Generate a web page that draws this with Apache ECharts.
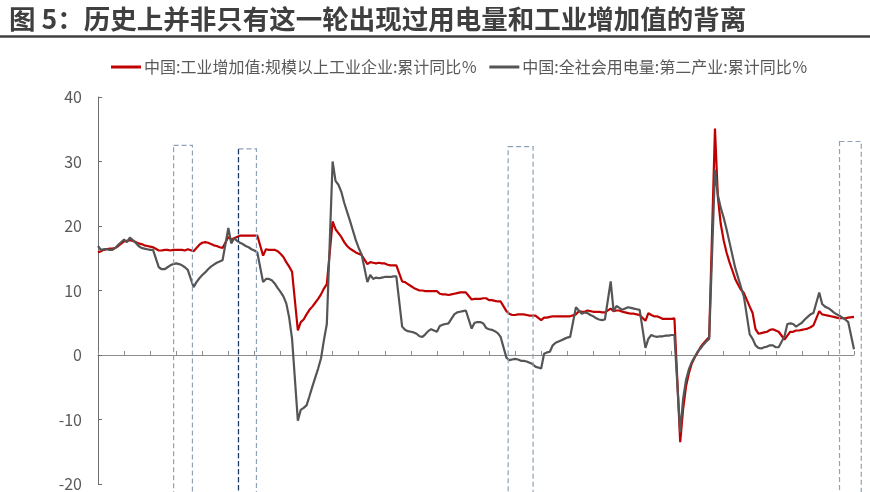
<!DOCTYPE html>
<html>
<head>
<meta charset="utf-8">
<script src="https://cdn.jsdelivr.net/npm/echarts@6/dist/echarts.min.js"></script>
<style>
html,body{margin:0;padding:0;background:#fff;}
#c{width:870px;height:492px;}
</style>
</head>
<body>
<div id="c"></div>
<script>
// ---- data (monthly, starting 2003-05; null = January with no separate release) ----
const titleText = '图 5：历史上并非只有这一轮出现过用电量和工业增加值的背离';
const seriesNames = ['中国:工业增加值:规模以上工业企业:累计同比％', '中国:全社会用电量:第二产业:累计同比％'];
const startYear = 2003, startMonth = 5, monthCount = 262;
const yTicks = { min: -20, max: 40, step: 10 };

const iva = [
  15.9, 16.1, 16.3, 16.4, 16.5, 16.5, 16.6, 16.9,                  // 2003 May-Dec
  null, 17.6, 17.7, 17.8, 17.7, 17.5, 17.3, 17.2, 17.0, 16.9, 16.8, 16.7, // 2004
  null, 16.2, 16.2, 16.3, 16.3, 16.2, 16.3, 16.3, 16.3, 16.3, 16.2, 16.4, // 2005
  null, 16.1, 16.6, 17.1, 17.4, 17.5, 17.4, 17.2, 17.0, 16.9, 16.7, 16.6, // 2006
  null, 18.3, 17.9, 18.1, 18.3, 18.5, 18.5, 18.5, 18.5, 18.5, 18.5, 18.5, // 2007
  null, 15.4, 16.4, 16.3, 16.3, 16.3, 16.1, 15.7, 15.2, 14.4, 13.7, 12.9, // 2008
  null, 3.8, 5.1, 5.5, 6.3, 7.0, 7.5, 8.1, 8.7, 9.4, 10.3, 11.0,          // 2009
  null, 20.7, 19.5, 18.9, 18.3, 17.5, 16.9, 16.5, 16.2, 15.9, 15.7, 15.5, // 2010
  null, 14.1, 14.4, 14.3, 14.2, 14.3, 14.2, 14.2, 14.0, 13.9, 13.9, 13.9, // 2011
  null, 11.4, 11.3, 11.0, 10.7, 10.4, 10.2, 10.0, 10.0, 9.9, 9.9, 9.9,    // 2012
  null, 9.9, 9.5, 9.4, 9.4, 9.3, 9.4, 9.5, 9.6, 9.7, 9.7, 9.7,            // 2013
  null, 8.6, 8.7, 8.7, 8.7, 8.8, 8.8, 8.5, 8.5, 8.4, 8.3, 8.3,            // 2014
  null, 6.8, 6.4, 6.2, 6.2, 6.3, 6.3, 6.3, 6.2, 6.1, 6.1, 6.1,            // 2015
  null, 5.4, 5.8, 5.8, 5.9, 6.0, 6.0, 6.0, 6.0, 6.0, 6.0, 6.0,            // 2016
  null, 6.3, 6.8, 6.7, 6.7, 6.9, 6.8, 6.7, 6.7, 6.7, 6.6, 6.6,            // 2017
  null, 7.2, 6.8, 6.9, 6.9, 6.7, 6.6, 6.5, 6.4, 6.4, 6.3, 6.2,            // 2018
  null, 5.3, 6.5, 6.2, 6.0, 6.0, 5.8, 5.6, 5.6, 5.6, 5.6, 5.7,            // 2019
  null, -13.5, -8.4, -4.9, -2.8, -1.3, -0.4, 0.4, 1.2, 1.8, 2.3, 2.8,     // 2020
  null, 35.1, 24.5, 20.3, 17.8, 15.9, 14.4, 13.1, 11.8, 10.9, 10.1, 9.6,  // 2021
  null, 7.5, 6.5, 4.0, 3.3, 3.4, 3.5, 3.6, 3.9, 4.0, 3.8, 3.6,            // 2022
  null, 2.4, 3.0, 3.6, 3.6, 3.8, 3.8, 3.9, 4.0, 4.1, 4.3, 4.6,            // 2023
  null, 6.8, 6.3, 6.2, 6.1, 6.0, 5.9, 5.8, 5.7, 5.7, 5.7, 5.8,            // 2024
  null, 5.9                                                              // 2025 Jan-Feb
];

const power = [
  16.9, 16.3, 16.4, 16.4, 16.3, 16.3, 16.6, 17.1,                        // 2003 May-Dec
  null, 17.9, 17.5, 18.2, 17.8, 17.4, 16.9, 16.6, 16.5, 16.4, 16.3, 16.3, // 2004
  null, 13.6, 13.3, 13.3, 13.6, 13.9, 14.1, 14.2, 14.1, 13.9, 13.6, 13.2, // 2005
  null, 10.5, 11.3, 11.9, 12.4, 12.8, 13.3, 13.7, 14.0, 14.3, 14.5, 14.7, // 2006
  null, 19.7, 17.3, 18.1, 17.7, 17.4, 17.2, 16.9, 16.7, 16.4, 16.2, 15.9, // 2007
  null, 11.3, 11.8, 11.8, 11.6, 11.1, 10.4, 9.8, 9.1, 8.0, 5.8, 2.5,      // 2008
  null, -10.2, -8.5, -8.2, -7.8, -6.4, -4.9, -3.5, -2.1, -0.5, 2.3, 4.8,  // 2009
  null, 30.0, 27.0, 26.4, 25.3, 23.6, 22.2, 20.8, 19.3, 17.8, 16.6, 15.6, // 2010
  null, 11.3, 12.4, 11.8, 12.0, 11.9, 12.0, 12.1, 12.1, 12.1, 12.2, 12.2, // 2011
  null, 4.4, 3.9, 3.7, 3.6, 3.5, 3.3, 2.9, 2.8, 3.2, 3.7, 4.0,            // 2012
  null, 3.6, 4.5, 4.7, 4.8, 4.9, 5.6, 6.3, 6.6, 6.7, 6.8, 6.9,            // 2013
  null, 4.1, 5.0, 5.1, 5.1, 4.9, 4.2, 4.0, 3.9, 3.7, 3.4, 2.8,            // 2014
  null, -0.4, -0.8, -0.7, -0.6, -0.7, -0.9, -0.9, -1.0, -1.2, -1.4, -1.8, // 2015
  null, -2.1, 0.2, 0.4, 0.5, 1.5, 1.9, 2.1, 2.3, 2.5, 2.7, 2.8,           // 2016
  null, 7.4, 6.9, 6.4, 6.6, 6.5, 6.2, 6.0, 5.7, 5.5, 5.4, 5.5,            // 2017
  null, 11.4, 6.8, 7.6, 7.3, 7.0, 7.2, 7.4, 7.3, 7.2, 7.1, 7.0,           // 2018
  null, 1.1, 2.5, 3.1, 2.9, 2.8, 2.9, 2.9, 3.0, 3.0, 3.1, 3.1,            // 2019
  null, -12.0, -6.8, -3.9, -2.2, -1.1, -0.3, 0.5, 1.0, 1.6, 2.1, 2.5,     // 2020
  null, 28.7, 24.8, 22.8, 21.3, 19.5, 17.5, 15.5, 13.5, 12.0, 10.5, 9.0,  // 2021
  null, 3.2, 2.5, 1.5, 1.1, 1.0, 1.2, 1.3, 1.5, 1.5, 1.2, 1.2,            // 2022
  null, 2.9, 4.8, 4.9, 4.8, 4.4, 4.7, 5.0, 5.5, 5.9, 6.3, 6.5,            // 2023
  null, 9.7, 7.9, 7.5, 7.3, 7.0, 6.6, 6.3, 6.1, 5.8, 5.5, 5.1,            // 2024
  null, 0.9                                                              // 2025 Jan-Feb
];

// highlighted periods: [start month index, end month index, top value, dark left edge]
const boxes = [
  [26.1, 32.6, 32.5, false],
  [48.5, 54.7, 31.95, true],
  [141.6, 150.2, 32.3, false],
  [256.0, 263.5, 33.1, false]
];

// ---- categories ----
const months = [];
for (let k = 0; k < monthCount; k++) {
  const m = startMonth - 1 + k;
  const y = startYear + Math.floor(m / 12);
  const mm = (m % 12) + 1;
  months.push(y + '-' + (mm < 10 ? '0' + mm : mm));
}

const FONT = '"Noto Sans CJK SC","Noto Sans",sans-serif';
const chart = echarts.init(document.getElementById('c'), null, {renderer: 'canvas'});

const option = {
  animation: false,
  backgroundColor: '#ffffff',
  title: {
    text: titleText,
    left: 4, top: 1,
    textStyle: {fontFamily: FONT, fontSize: 26.5, fontWeight: 'bold', color: '#3f3f3f'}
  },
  legend: {
    left: 106, top: 54,
    icon: 'rect', itemWidth: 30, itemHeight: 3, itemGap: 12,
    textStyle: {fontFamily: FONT, fontSize: 16, color: '#595959', padding: [0,0,0,-2]},
    data: seriesNames
  },
  grid: {left: 98, right: 16, top: 97, bottom: 5, containLabel: false},
  xAxis: {
    type: 'category',
    data: months,
    boundaryGap: false,
    axisLine: {onZero: true, lineStyle: {color: '#8c8c8c', width: 1}},
    axisTick: {show: true, inside: true, length: 4, interval: 8, lineStyle: {color: '#8c8c8c'}},
    axisLabel: {show: false},
    splitLine: {show: false}
  },
  yAxis: {
    type: 'value',
    min: yTicks.min, max: yTicks.max, interval: yTicks.step,
    axisLine: {show: true, lineStyle: {color: '#6e6e6e', width: 1}},
    axisTick: {show: true, inside: true, length: 4, lineStyle: {color: '#6e6e6e'}},
    axisLabel: {fontFamily: FONT, fontSize: 16, color: '#595959', margin: 16},
    splitLine: {show: false}
  },
  series: [
    {
      name: seriesNames[0], type: 'line', data: iva,
      showSymbol: false, symbol: 'none', connectNulls: true,
      lineStyle: {color: '#c00000', width: 2.2}, itemStyle: {color: '#c00000'}
    },
    {
      name: seriesNames[1], type: 'line', data: power,
      showSymbol: false, symbol: 'none', connectNulls: true,
      lineStyle: {color: '#555555', width: 2.2}, itemStyle: {color: '#555555'}
    }
  ]
};
chart.setOption(option);

// ---- dashed annotation boxes and title rule ----
function xAt(idx) {
  const p0 = chart.convertToPixel({gridIndex: 0}, [0, 0])[0];
  const p1 = chart.convertToPixel({gridIndex: 0}, [10, 0])[0];
  return p0 + (p1 - p0) * idx / 10;
}
function yAt(v) {
  return chart.convertToPixel({gridIndex: 0}, [0, v])[1];
}
const graphics = [
  {type: 'line', shape: {x1: 0, y1: 36.5, x2: 870, y2: 36.5}, style: {stroke: '#404040', lineWidth: 2.5}, z: 10}
];
boxes.forEach(function (b) {
  const x1 = xAt(b[0]), x2 = xAt(b[1]), yt = yAt(b[2]);
  graphics.push({
    type: 'rect',
    shape: {x: x1, y: yt, width: x2 - x1, height: 510 - yt},
    style: {fill: 'none', stroke: '#8fa2b8', lineWidth: 1.2, lineDash: [5, 3]},
    z: 10
  });
  if (b[3]) {
    graphics.push({
      type: 'line',
      shape: {x1: x1, y1: yt, x2: x1, y2: 510},
      style: {stroke: '#1f3864', lineWidth: 1.2, lineDash: [5, 3]},
      z: 11
    });
  }
});
chart.setOption({graphic: graphics});
</script>
</body>
</html>
